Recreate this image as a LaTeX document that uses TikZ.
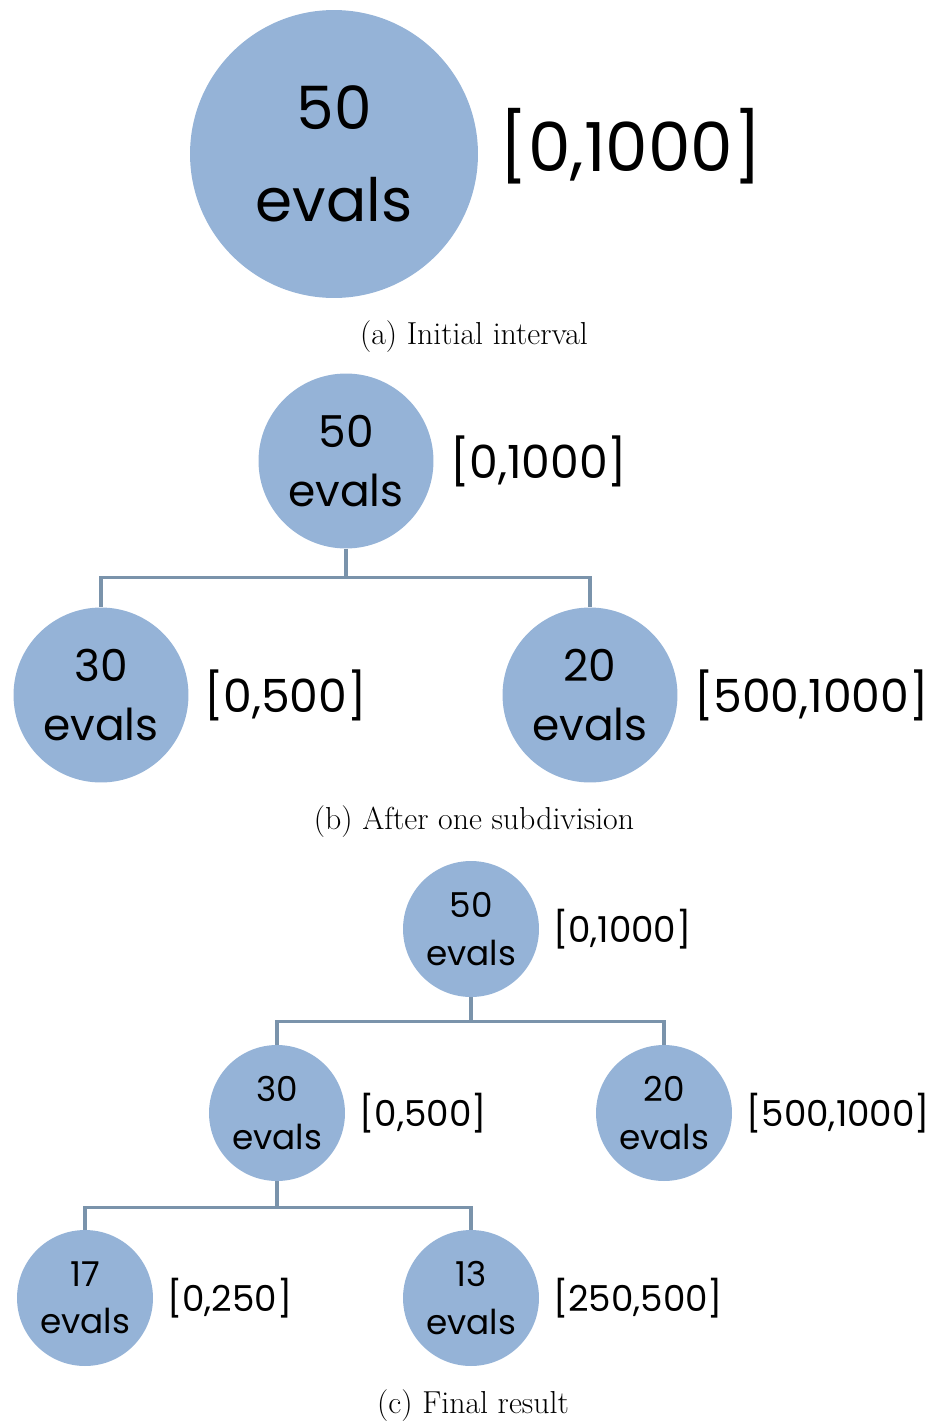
\documentclass[tikz,border=0pt]{standalone}
\usepackage{fontspec}
\newfontfamily\gothic{Poppins}
\usetikzlibrary{positioning}
\definecolor{nodeblue}{HTML}{95B3D7}
\definecolor{linkblue}{HTML}{7A93AB}
\begin{document}
\begin{tikzpicture}[
  x=0.02cm, y=-0.02cm,
  ev/.style={circle, fill=nodeblue, inner sep=0pt, align=center},
  bigev/.style={ev, minimum size=5.76cm, font=\gothic\fontsize{34}{52}\selectfont},
  midev/.style={ev, minimum size=3.5cm, font=\gothic\fontsize{25}{34}\selectfont},
  smallev/.style={ev, minimum size=2.72cm, font=\gothic\fontsize{19.5}{27}\selectfont},
  biglbl/.style={inner sep=0pt, font=\gothic\fontsize{38.5}{46}\selectfont},
  midlbl/.style={inner sep=0pt, font=\gothic\fontsize{26}{32}\selectfont},
  smalllbl/.style={inner sep=0pt, font=\gothic\fontsize{20.3}{25}\selectfont},
  link/.style={draw=linkblue, line width=1.8pt},
  subcap/.style={inner sep=0pt, font=\fontsize{18.1}{22}\selectfont}
]
\useasboundingbox (0,0) rectangle (938,1423);

\node[bigev] (a0) at (334,154) {50\\evals};
\node[biglbl, right=0.42cm of a0, yshift=0.16cm] (la0) {[0,1000]};
\node[subcap] (capa) at (474,337) {(a) Initial interval};

\node[midev] (b0) at (346,461) {50\\evals};
\node[midev] (b1) at (101,695) {30\\evals};
\node[midev] (b2) at (590,695) {20\\evals};
\node[midlbl, right=0.32cm of b0] (lb0) {[0,1000]};
\node[midlbl, right=0.3cm of b1] (lb1) {[0,500]};
\node[midlbl, right=0.32cm of b2] (lb2) {[500,1000]};
\node[subcap] (capb) at (474,822) {(b) After one subdivision};

\draw[link] (b0.south) -- ++(0,29) -| (b1.north);
\draw[link] (b0.south) -- ++(0,29) -| (b2.north);

\node[smallev] (c0) at (471,929) {50\\evals};
\node[smallev] (c1) at (277,1113) {30\\evals};
\node[smallev] (c2) at (664,1113) {20\\evals};
\node[smallev] (c3) at (85,1298) {17\\evals};
\node[smallev] (c4) at (471,1298) {13\\evals};
\node[smalllbl, right=0.27cm of c0] (lc0) {[0,1000]};
\node[smalllbl, right=0.28cm of c1] (lc1) {[0,500]};
\node[smalllbl, right=0.28cm of c2] (lc2) {[500,1000]};
\node[smalllbl, right=0.27cm of c3] (lc3) {[0,250]};
\node[smalllbl, right=0.27cm of c4] (lc4) {[250,500]};
\node[subcap] (capc) at (473,1406) {(c) Final result};

\draw[link] (c0.south) -- ++(0,24) -| (c1.north);
\draw[link] (c0.south) -- ++(0,24) -| (c2.north);
\draw[link] (c1.south) -- ++(0,26) -| (c3.north);
\draw[link] (c1.south) -- ++(0,26) -| (c4.north);
\end{tikzpicture}
\end{document}
